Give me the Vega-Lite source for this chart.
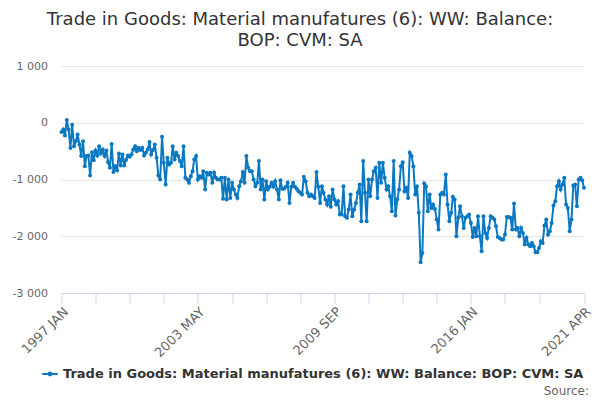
{
  "$schema": "https://vega.github.io/schema/vega-lite/v6.json",
  "width": 522.5,
  "height": 227,
  "autosize": {"type": "none"},
  "padding": {"left": 61.5, "top": 66, "right": 16, "bottom": 107},
  "background": "#ffffff",
  "config": {
    "font": "DejaVu Sans",
    "view": {"stroke": null}
  },
  "title": {
    "text": ["Trade in Goods: Material manufatures (6): WW: Balance:", "BOP: CVM: SA"],
    "fontSize": 18,
    "fontWeight": "normal",
    "color": "#333333",
    "anchor": "middle",
    "dx": -22.7,
    "lineHeight": 21,
    "offset": 10
  },
  "data": {
    "values": [
      {"d":"1997-01-01","v":-165},{"d":"1997-02-01","v":-118},{"d":"1997-03-01","v":-224},{"d":"1997-04-01","v":47},{"d":"1997-05-01","v":-118},{"d":"1997-06-01","v":-447},{"d":"1997-07-01","v":-35},{"d":"1997-08-01","v":-412},{"d":"1997-09-01","v":-324},{"d":"1997-10-01","v":-206},{"d":"1997-11-01","v":-382},{"d":"1997-12-01","v":-588},
      {"d":"1998-01-01","v":-324},{"d":"1998-02-01","v":-765},{"d":"1998-03-01","v":-588},{"d":"1998-04-01","v":-576},{"d":"1998-05-01","v":-930},{"d":"1998-06-01","v":-518},{"d":"1998-07-01","v":-659},{"d":"1998-08-01","v":-488},{"d":"1998-09-01","v":-576},{"d":"1998-10-01","v":-412},{"d":"1998-11-01","v":-541},{"d":"1998-12-01","v":-470},
      {"d":"1999-01-01","v":-588},{"d":"1999-02-01","v":-488},{"d":"1999-03-01","v":-694},{"d":"1999-04-01","v":-794},{"d":"1999-05-01","v":-376},{"d":"1999-06-01","v":-870},{"d":"1999-07-01","v":-765},{"d":"1999-08-01","v":-835},{"d":"1999-09-01","v":-541},{"d":"1999-10-01","v":-753},{"d":"1999-11-01","v":-559},{"d":"1999-12-01","v":-753},
      {"d":"2000-01-01","v":-650},{"d":"2000-02-01","v":-576},{"d":"2000-03-01","v":-600},{"d":"2000-04-01","v":-559},{"d":"2000-05-01","v":-470},{"d":"2000-06-01","v":-412},{"d":"2000-07-01","v":-500},{"d":"2000-08-01","v":-441},{"d":"2000-09-01","v":-482},{"d":"2000-10-01","v":-441},{"d":"2000-11-01","v":-576},{"d":"2000-12-01","v":-529},
      {"d":"2001-01-01","v":-470},{"d":"2001-02-01","v":-341},{"d":"2001-03-01","v":-559},{"d":"2001-04-01","v":-480},{"d":"2001-05-01","v":-382},{"d":"2001-06-01","v":-618},{"d":"2001-07-01","v":-930},{"d":"2001-08-01","v":-1000},{"d":"2001-09-01","v":-247},{"d":"2001-10-01","v":-706},{"d":"2001-11-01","v":-1088},{"d":"2001-12-01","v":-618},
      {"d":"2002-01-01","v":-735},{"d":"2002-02-01","v":-700},{"d":"2002-03-01","v":-412},{"d":"2002-04-01","v":-647},{"d":"2002-05-01","v":-529},{"d":"2002-06-01","v":-588},{"d":"2002-07-01","v":-676},{"d":"2002-08-01","v":-765},{"d":"2002-09-01","v":-412},{"d":"2002-10-01","v":-970},{"d":"2002-11-01","v":-1000},{"d":"2002-12-01","v":-1059},
      {"d":"2003-01-01","v":-941},{"d":"2003-02-01","v":-853},{"d":"2003-03-01","v":-647},{"d":"2003-04-01","v":-588},{"d":"2003-05-01","v":-1000},{"d":"2003-06-01","v":-941},{"d":"2003-07-01","v":-970},{"d":"2003-08-01","v":-853},{"d":"2003-09-01","v":-1176},{"d":"2003-10-01","v":-882},{"d":"2003-11-01","v":-912},{"d":"2003-12-01","v":-882},
      {"d":"2004-01-01","v":-1059},{"d":"2004-02-01","v":-882},{"d":"2004-03-01","v":-970},{"d":"2004-04-01","v":-1000},{"d":"2004-05-01","v":-1000},{"d":"2004-06-01","v":-970},{"d":"2004-07-01","v":-1341},{"d":"2004-08-01","v":-970},{"d":"2004-09-01","v":-1353},{"d":"2004-10-01","v":-1000},{"d":"2004-11-01","v":-1324},{"d":"2004-12-01","v":-1059},
      {"d":"2005-01-01","v":-1176},{"d":"2005-02-01","v":-1265},{"d":"2005-03-01","v":-1324},{"d":"2005-04-01","v":-1118},{"d":"2005-05-01","v":-1029},{"d":"2005-06-01","v":-870},{"d":"2005-07-01","v":-1059},{"d":"2005-08-01","v":-588},{"d":"2005-09-01","v":-794},{"d":"2005-10-01","v":-853},{"d":"2005-11-01","v":-853},{"d":"2005-12-01","v":-1000},
      {"d":"2006-01-01","v":-1118},{"d":"2006-02-01","v":-1059},{"d":"2006-03-01","v":-676},{"d":"2006-04-01","v":-1176},{"d":"2006-05-01","v":-1000},{"d":"2006-06-01","v":-1353},{"d":"2006-07-01","v":-1029},{"d":"2006-08-01","v":-1176},{"d":"2006-09-01","v":-1129},{"d":"2006-10-01","v":-1059},{"d":"2006-11-01","v":-1129},{"d":"2006-12-01","v":-1029},
      {"d":"2007-01-01","v":-1176},{"d":"2007-02-01","v":-1353},{"d":"2007-03-01","v":-1012},{"d":"2007-04-01","v":-1165},{"d":"2007-05-01","v":-1165},{"d":"2007-06-01","v":-1129},{"d":"2007-07-01","v":-1059},{"d":"2007-08-01","v":-1412},{"d":"2007-09-01","v":-1129},{"d":"2007-10-01","v":-1059},{"d":"2007-11-01","v":-1129},{"d":"2007-12-01","v":-1165},
      {"d":"2008-01-01","v":-1206},{"d":"2008-02-01","v":-1235},{"d":"2008-03-01","v":-1265},{"d":"2008-04-01","v":-953},{"d":"2008-05-01","v":-1029},{"d":"2008-06-01","v":-1235},{"d":"2008-07-01","v":-1294},{"d":"2008-08-01","v":-1265},{"d":"2008-09-01","v":-1294},{"d":"2008-10-01","v":-1324},{"d":"2008-11-01","v":-870},{"d":"2008-12-01","v":-1129},
      {"d":"2009-01-01","v":-1412},{"d":"2009-02-01","v":-1118},{"d":"2009-03-01","v":-1235},{"d":"2009-04-01","v":-1353},{"d":"2009-05-01","v":-1441},{"d":"2009-06-01","v":-1294},{"d":"2009-07-01","v":-1482},{"d":"2009-08-01","v":-1176},{"d":"2009-09-01","v":-1353},{"d":"2009-10-01","v":-1441},{"d":"2009-11-01","v":-1382},{"d":"2009-12-01","v":-1618},
      {"d":"2010-01-01","v":-1618},{"d":"2010-02-01","v":-1118},{"d":"2010-03-01","v":-1647},{"d":"2010-04-01","v":-1676},{"d":"2010-05-01","v":-1529},{"d":"2010-06-01","v":-1265},{"d":"2010-07-01","v":-1647},{"d":"2010-08-01","v":-1529},{"d":"2010-09-01","v":-1412},{"d":"2010-10-01","v":-1235},{"d":"2010-11-01","v":-1088},{"d":"2010-12-01","v":-1735},
      {"d":"2011-01-01","v":-676},{"d":"2011-02-01","v":-1235},{"d":"2011-03-01","v":-1735},{"d":"2011-04-01","v":-1000},{"d":"2011-05-01","v":-1294},{"d":"2011-06-01","v":-1000},{"d":"2011-07-01","v":-853},{"d":"2011-08-01","v":-794},{"d":"2011-09-01","v":-1324},{"d":"2011-10-01","v":-706},{"d":"2011-11-01","v":-1059},{"d":"2011-12-01","v":-706},
      {"d":"2012-01-01","v":-970},{"d":"2012-02-01","v":-1176},{"d":"2012-03-01","v":-1118},{"d":"2012-04-01","v":-1294},{"d":"2012-05-01","v":-1559},{"d":"2012-06-01","v":-676},{"d":"2012-07-01","v":-1635},{"d":"2012-08-01","v":-1353},{"d":"2012-09-01","v":-1176},{"d":"2012-10-01","v":-765},{"d":"2012-11-01","v":-694},{"d":"2012-12-01","v":-1206},
      {"d":"2013-01-01","v":-1147},{"d":"2013-02-01","v":-1324},{"d":"2013-03-01","v":-529},{"d":"2013-04-01","v":-588},{"d":"2013-05-01","v":-765},{"d":"2013-06-01","v":-1265},{"d":"2013-07-01","v":-1118},{"d":"2013-08-01","v":-1588},{"d":"2013-09-01","v":-2459},{"d":"2013-10-01","v":-2294},{"d":"2013-11-01","v":-1071},{"d":"2013-12-01","v":-1118},
      {"d":"2014-01-01","v":-1559},{"d":"2014-02-01","v":-1265},{"d":"2014-03-01","v":-1500},{"d":"2014-04-01","v":-1441},{"d":"2014-05-01","v":-1518},{"d":"2014-06-01","v":-1706},{"d":"2014-07-01","v":-1882},{"d":"2014-08-01","v":-1265},{"d":"2014-09-01","v":-1235},{"d":"2014-10-01","v":-1265},{"d":"2014-11-01","v":-912},{"d":"2014-12-01","v":-1441},
      {"d":"2015-01-01","v":-1735},{"d":"2015-02-01","v":-1588},{"d":"2015-03-01","v":-1306},{"d":"2015-04-01","v":-1353},{"d":"2015-05-01","v":-2000},{"d":"2015-06-01","v":-1676},{"d":"2015-07-01","v":-1471},{"d":"2015-08-01","v":-1647},{"d":"2015-09-01","v":-1853},{"d":"2015-10-01","v":-1676},{"d":"2015-11-01","v":-1647},{"d":"2015-12-01","v":-1618},
      {"d":"2016-01-01","v":-1765},{"d":"2016-02-01","v":-2012},{"d":"2016-03-01","v":-1853},{"d":"2016-04-01","v":-2000},{"d":"2016-05-01","v":-1647},{"d":"2016-06-01","v":-2000},{"d":"2016-07-01","v":-2265},{"d":"2016-08-01","v":-1647},{"d":"2016-09-01","v":-1941},{"d":"2016-10-01","v":-2029},{"d":"2016-11-01","v":-1853},{"d":"2016-12-01","v":-1647},
      {"d":"2017-01-01","v":-1676},{"d":"2017-02-01","v":-1706},{"d":"2017-03-01","v":-1824},{"d":"2017-04-01","v":-2012},{"d":"2017-05-01","v":-2029},{"d":"2017-06-01","v":-2059},{"d":"2017-07-01","v":-2059},{"d":"2017-08-01","v":-1971},{"d":"2017-09-01","v":-1659},{"d":"2017-10-01","v":-1659},{"d":"2017-11-01","v":-1676},{"d":"2017-12-01","v":-1882},
      {"d":"2018-01-01","v":-1424},{"d":"2018-02-01","v":-1882},{"d":"2018-03-01","v":-1853},{"d":"2018-04-01","v":-2000},{"d":"2018-05-01","v":-1853},{"d":"2018-06-01","v":-1941},{"d":"2018-07-01","v":-2147},{"d":"2018-08-01","v":-2029},{"d":"2018-09-01","v":-2147},{"d":"2018-10-01","v":-2176},{"d":"2018-11-01","v":-2118},{"d":"2018-12-01","v":-2176},
      {"d":"2019-01-01","v":-2282},{"d":"2019-02-01","v":-2282},{"d":"2019-03-01","v":-2206},{"d":"2019-04-01","v":-2088},{"d":"2019-05-01","v":-2118},{"d":"2019-06-01","v":-1812},{"d":"2019-07-01","v":-1706},{"d":"2019-08-01","v":-1971},{"d":"2019-09-01","v":-1912},{"d":"2019-10-01","v":-1765},{"d":"2019-11-01","v":-1459},{"d":"2019-12-01","v":-1382},
      {"d":"2020-01-01","v":-1118},{"d":"2020-02-01","v":-1029},{"d":"2020-03-01","v":-1176},{"d":"2020-04-01","v":-1088},{"d":"2020-05-01","v":-971},{"d":"2020-06-01","v":-1441},{"d":"2020-07-01","v":-1500},{"d":"2020-08-01","v":-1912},{"d":"2020-09-01","v":-1706},{"d":"2020-10-01","v":-1106},{"d":"2020-11-01","v":-1088},{"d":"2020-12-01","v":-1471},
      {"d":"2021-01-01","v":-1000},{"d":"2021-02-01","v":-971},{"d":"2021-03-01","v":-1012},{"d":"2021-04-01","v":-1147}
    ]
  },
  "mark": {
    "type": "line",
    "strokeWidth": 2,
    "point": {"filled": true, "size": 16}
  },
  "encoding": {
    "x": {
      "field": "d",
      "type": "temporal",
      "scale": {
        "type": "utc",
        "domain": [
          {"year": 1997, "month": 1, "date": 1, "utc": true},
          {"year": 2021, "month": 4, "date": 1, "utc": true}
        ]
      },
      "axis": {
        "title": "Source:",
        "titleX": 527,
        "titleY": 101,
        "titleAlign": "right",
        "titleBaseline": "alphabetic",
        "titleFontWeight": "normal",
        "titleFontSize": 12,
        "titleColor": "#666666",
        "grid": false,
        "domainColor": "#ccd6eb",
        "tickColor": "#ccd6eb",
        "tickSize": 10,
        "labelAngle": -45,
        "labelFontSize": 13,
        "labelColor": "#666666",
        "labelOverlap": false,
        "labelPadding": 2,
        "labelBound": false,
        "labelFlush": false,
        "values": [
          {"year": 1997, "month": 1, "date": 1, "utc": true},
          {"year": 1998, "month": 8, "date": 1, "utc": true},
          {"year": 2000, "month": 3, "date": 1, "utc": true},
          {"year": 2001, "month": 10, "date": 1, "utc": true},
          {"year": 2003, "month": 5, "date": 1, "utc": true},
          {"year": 2004, "month": 12, "date": 1, "utc": true},
          {"year": 2006, "month": 7, "date": 1, "utc": true},
          {"year": 2008, "month": 2, "date": 1, "utc": true},
          {"year": 2009, "month": 9, "date": 1, "utc": true},
          {"year": 2011, "month": 4, "date": 1, "utc": true},
          {"year": 2012, "month": 11, "date": 1, "utc": true},
          {"year": 2014, "month": 6, "date": 1, "utc": true},
          {"year": 2016, "month": 1, "date": 1, "utc": true},
          {"year": 2017, "month": 8, "date": 1, "utc": true},
          {"year": 2019, "month": 3, "date": 1, "utc": true},
          {"year": 2021, "month": 4, "date": 1, "utc": true}
        ],
        "labelExpr": "indexof(['1997 JAN','2003 MAY','2009 SEP','2016 JAN','2021 APR'], upper(utcFormat(datum.value, '%Y %b'))) >= 0 ? upper(utcFormat(datum.value, '%Y %b')) : ''"
      }
    },
    "y": {
      "field": "v",
      "type": "quantitative",
      "scale": {"domain": [-3000, 1000], "nice": false, "zero": false},
      "axis": {
        "title": null,
        "values": [-3000, -2000, -1000, 0, 1000],
        "domain": false,
        "ticks": false,
        "gridColor": "#e6e6e6",
        "labelFontSize": 11,
        "labelColor": "#666666",
        "labelPadding": 14,
        "labelExpr": "datum.value == 0 ? '0' : (datum.value < 0 ? '-' : '') + replace(format(abs(datum.value), ','), ',', ' ')"
      }
    },
    "color": {
      "datum": "Trade in Goods: Material manufatures (6): WW: Balance: BOP: CVM: SA",
      "scale": {"range": ["#0a78c2"]},
      "legend": {
        "title": null,
        "orient": "none",
        "legendX": -20.5,
        "legendY": 299,
        "symbolType": "M-1,0L1,0M-0.18,0A0.18,0.18 0 1,0 0.18,0A0.18,0.18 0 1,0 -0.18,0",
        "symbolSize": 240,
        "symbolStrokeWidth": 2,
        "labelFontSize": 13,
        "labelFontWeight": "bold",
        "labelColor": "#333333",
        "labelLimit": 0
      }
    }
  }
}
